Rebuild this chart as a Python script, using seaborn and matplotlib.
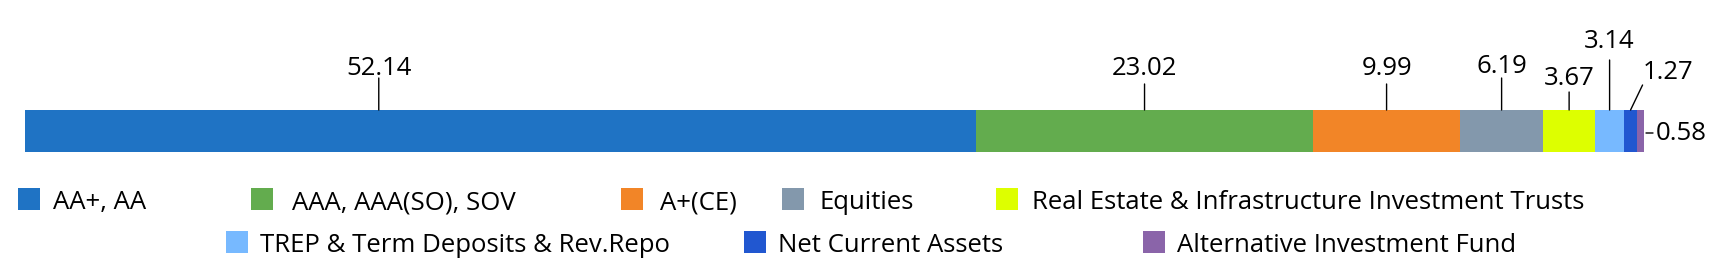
import matplotlib
matplotlib.use("Agg")
import matplotlib.pyplot as plt
from matplotlib.patches import Rectangle
from matplotlib.transforms import offset_copy
import seaborn as sns
import pandas as pd

# ---- data ----
categories = ["AA+, AA", "AAA, AAA(SO), SOV", "A+(CE)", "Equities",
              "Real Estate & Infrastructure Investment Trusts",
              "TREP & Term Deposits & Rev.Repo", "Net Current Assets",
              "Alternative Investment Fund"]
share_labels = ["52.14", "23.02", "9.99", "6.19", "3.67", "3.14", "1.27", "0.58"]
# drawn segment lengths (% of bar)
bar_lengths = [58.74, 20.82, 9.08, 5.13, 3.21, 1.79, 0.80, 0.43]
colors = ["#1f73c4", "#63ac4e", "#f28527", "#8398ac", "#ddff00",
          "#77b9ff", "#2157d0", "#8a64a9"]

df = pd.DataFrame({"category": categories, "length": bar_lengths,
                   "label": share_labels, "color": colors})
df["end"] = df["length"].cumsum()
df["start"] = df["end"] - df["length"]
df["row"] = "Portfolio"

W, H = 1723, 277
sns.set_theme(style="white")
plt.rcParams["font.family"] = ["Open Sans", "DejaVu Sans"]
FS = 18.5

fig = plt.figure(figsize=(W / 100, H / 100), dpi=100)
ax = fig.add_axes([25 / W, (H - 152) / H, 1619 / W, 42 / H])

# stacked bar: draw cumulative totals back to front
for i in reversed(range(len(df))):
    sns.barplot(data=df.iloc[[i]], x="end", y="row", color=df.loc[i, "color"],
                orient="h", width=1.0, saturation=1, errorbar=None, ax=ax,
                linewidth=0)

ax.set_xlim(0, 100)
ax.set_ylim(0.5, -0.5)
ax.axis("off")

# ---- data labels with leader lines ----
anchor_frac = [0.372, 0.5, 0.5, 0.5, 0.5, 0.5, 0.5]
line_len = [32, 26, 26, 32, 18, 50]
text_rise = [35, 35, 35, 37, 25, 62]
lk = dict(arrowstyle="-", shrinkA=0, shrinkB=0, lw=1.0, color="black")

for i in range(6):
    x = df.loc[i, "start"] + anchor_frac[i] * df.loc[i, "length"]
    ax.annotate("", xy=(x, -0.5), xytext=(0, line_len[i]),
                textcoords="offset pixels", arrowprops=lk)
    ax.annotate(df.loc[i, "label"], xy=(x, -0.5), xytext=(0, text_rise[i]),
                textcoords="offset pixels", ha="center", va="baseline",
                fontsize=FS, color="black")

# 1.27 : slanted leader
x7 = df.loc[6, "start"] + 0.5 * df.loc[6, "length"]
ax.annotate("", xy=(x7, -0.5), xytext=(12, 25), textcoords="offset pixels",
            arrowprops=lk)
ax.annotate(df.loc[6, "label"], xy=(x7, -0.5), xytext=(12, 31),
            textcoords="offset pixels", ha="left", va="baseline",
            fontsize=FS, color="black")

# 0.58 : horizontal leader to the right of the bar
x8 = df.loc[7, "end"]
ax.annotate("", xy=(x8, 0),
            xycoords=offset_copy(ax.transData, fig=fig, x=2, y=-2, units="dots"),
            xytext=(7, 0), textcoords="offset pixels", arrowprops=lk)
ax.annotate(df.loc[7, "label"], xy=(x8, 0), xytext=(12, -9),
            textcoords="offset pixels", ha="left", va="baseline",
            fontsize=FS, color="black")

# ---- legend (manual layout like the reference) ----
leg_sq_x = [18, 251, 621, 782, 996, 226, 744, 1143]
leg_text_x = [53, 292, 660, 820, 1032, 260, 778, 1177]
leg_row = [0, 0, 0, 0, 0, 1, 1, 1]
row_sq_top = [188, 231]
row_base = [209, 252]
SQ = 22
for i, cat in enumerate(categories):
    r = leg_row[i]
    fig.add_artist(Rectangle((leg_sq_x[i] / W, (H - row_sq_top[r] - SQ) / H),
                             SQ / W, SQ / H, transform=fig.transFigure,
                             facecolor=colors[i], edgecolor="none"))
    fig.text(leg_text_x[i] / W, (H - row_base[r]) / H, cat, ha="left",
             va="baseline", fontsize=FS, color="black")

fig.savefig("out.png", dpi=100, facecolor="white")
